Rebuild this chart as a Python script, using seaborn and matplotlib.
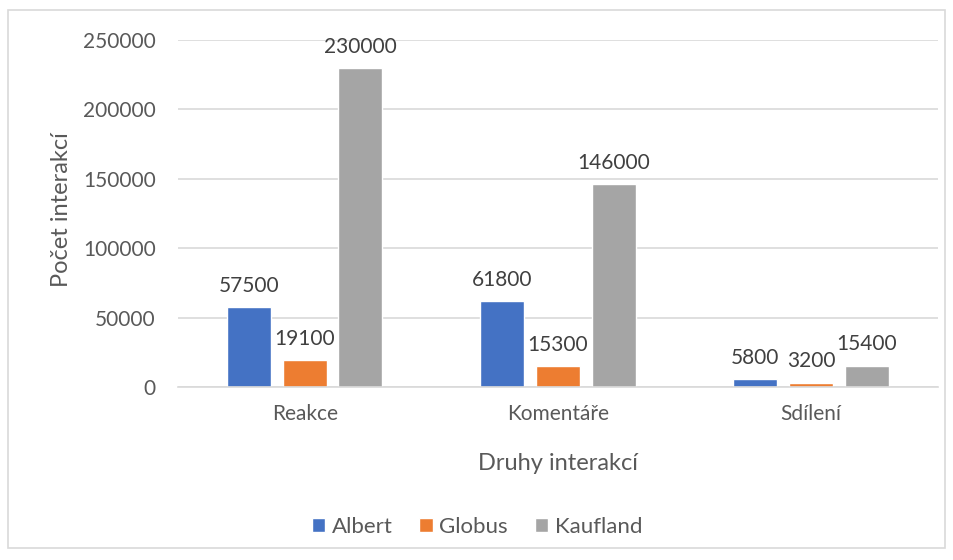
import matplotlib

matplotlib.use("Agg")
import matplotlib.pyplot as plt  # noqa: E402
import pandas as pd  # noqa: E402
import seaborn as sns  # noqa: E402
from matplotlib.patches import Rectangle  # noqa: E402

categories = ["Reakce", "Komentáře", "Sdílení"]
stores = ["Albert", "Globus", "Kaufland"]
albert = [57500, 61800, 5800]
globus = [19100, 15300, 3200]
kaufland = [230000, 146000, 15400]
yticks = [0, 50000, 100000, 150000, 200000, 250000]

colors = ["#4472C4", "#ED7D31", "#A5A5A5"]
text_grey = "#595959"

df = pd.DataFrame({
    "kategorie": categories * 3,
    "obchod": [s for s in stores for _ in categories],
    "pocet": albert + globus + kaufland,
})

sns.set_theme(style="white")
plt.rcParams["font.family"] = ["Lato", "DejaVu Sans"]

fig = plt.figure(figsize=(9.54, 5.6), dpi=100)
ax = fig.add_axes([0.1866, 0.309, 0.7964, 0.6196])

sns.barplot(
    data=df, x="kategorie", y="pocet", hue="obchod",
    order=categories, hue_order=stores, palette=colors,
    width=0.66, gap=0.21, saturation=1, ax=ax, legend=True,
)

for cont in ax.containers:
    ax.bar_label(cont, fmt="%d", padding=8, fontsize=15, color="#404040")

ax.set_xlim(-0.5, 2.5)
ax.set_ylim(0, 250000)
ax.set_yticks(yticks)
ax.set_yticklabels([str(v) for v in yticks])
ax.yaxis.grid(True, color="#D9D9D9", lw=1.2)
ax.set_axisbelow(True)
for side in ["top", "right", "left"]:
    ax.spines[side].set_visible(False)
ax.spines["bottom"].set_color("#D9D9D9")
ax.spines["bottom"].set_linewidth(1.2)
ax.tick_params(axis="both", length=0, labelsize=15, colors=text_grey)
ax.tick_params(axis="x", pad=12)
ax.tick_params(axis="y", pad=16)

ax.set_xlabel("Druhy interakcí", fontsize=17, color=text_grey)
ax.set_ylabel("Počet interakcí", fontsize=17, color=text_grey)
ax.xaxis.set_label_coords(0.5, -0.19)
ax.yaxis.set_label_coords(-0.14, 0.51)

ax.get_legend().remove()
handles, labels = ax.get_legend_handles_labels()
fig.legend(
    handles, labels, loc="center", bbox_to_anchor=(0.5, 0.059), ncol=3,
    frameon=False, fontsize=16, labelcolor=text_grey,
    handlelength=0.6, handleheight=0.6, handletextpad=0.3, columnspacing=1.2,
)

fig.patches.append(Rectangle(
    (8 / 954, 1 - 548 / 560), 937 / 954, 538 / 560,
    transform=fig.transFigure, fill=False, edgecolor="#D9D9D9", lw=1.2,
))

fig.savefig("out.png", dpi=100)
plt.close(fig)
